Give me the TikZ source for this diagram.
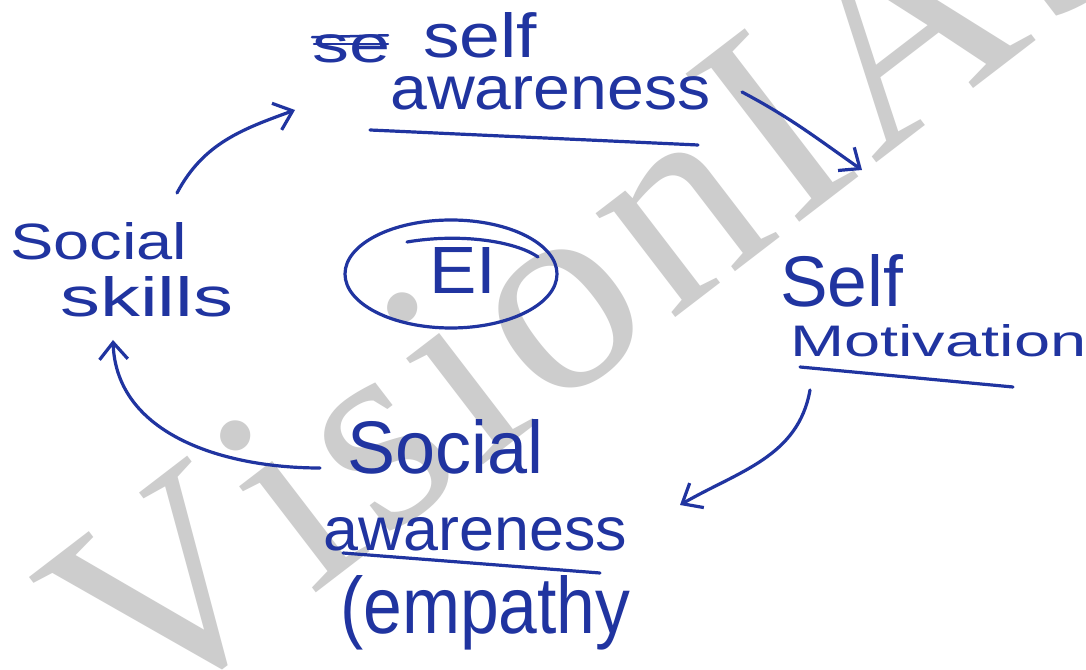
\documentclass[tikz,border=0pt]{standalone}
\usepackage{fontspec}
\usepackage{graphicx}
\setmainfont{Liberation Sans}
\newfontfamily\wmfont{Liberation Serif}
\usetikzlibrary{arrows.meta,shapes.geometric}
\definecolor{ink}{RGB}{32,52,160}
\definecolor{wm}{RGB}{205,205,205}
\newcommand{\hw}[3]{\resizebox{#1pt}{#2pt}{#3}}
\begin{document}
\begin{tikzpicture}[x=1pt,y=1pt,
  txt/.style={inner sep=0pt, anchor=base west, text=ink},
  wmk/.style={inner sep=0pt, anchor=base, text=wm, font=\wmfont\fontsize{285}{285}\selectfont},
  inkline/.style={draw=ink, line width=3.2pt, line cap=round, line join=round},
  conn/.style={inkline, -{Straight Barb[angle=80:22pt]}}]
\fill[white] (0,0) rectangle (1086,669);
\useasboundingbox (0,0) rectangle (1086,669);
% watermark
\begin{scope}[shift={(222,4)}, rotate=37.5, transform shape]
\node[wmk] (w1) at (0,0) {V};
\node[wmk] (w2) at (152.5,0) {i};
\node[wmk] (w3) at (257.6,0) {s};
\node[wmk] (w4) at (362.6,0) {i};
\node[wmk] (w5) at (483.5,0) {o};
\node[wmk] (w6) at (636,0) {n};
\node[wmk] (w7) at (764.7,0) {I};
\node[wmk] (w8) at (925,0) {A};
\node[wmk] (w9) at (1117,0) {S};
\end{scope}
% texts
\node[txt] (strk) at (312,606) {\hw{78}{28}{se}};
\draw[inkline, line width=2.5pt] (strk.west) ++(0,12) -- ++(76,2);
\draw[inkline, line width=2.5pt] (strk.west) ++(2,5) -- ++(74,0);
\node[txt] (self1) at (423,611) {\hw{114}{45}{self}};
\node[txt] (aw1) at (390,559) {\hw{320}{33}{awareness}};
\node[txt] (self2) at (780,362) {\hw{123}{52}{Self}};
\node[txt] (mot) at (790,312) {\hw{296}{32}{Motivation}};
\node[txt] (soc1) at (347,196) {\hw{196}{54}{Social}};
\node[txt] (aw2) at (323,119) {\hw{304}{33}{awareness}};
\node[txt] (emp) at (340,36) {\hw{290}{58}{(empathy}};
\node[txt] (soc2) at (10,409) {\hw{177}{37}{Social}};
\node[txt] (ski) at (60,352) {\hw{173}{40}{skills}};
\node[ellipse, draw=ink, line width=3.2pt, minimum width=212pt, minimum height=108pt, inner sep=0pt] (ring) at (451,395) {};
\node[inner sep=0pt, text=ink] (ei) at (463,399) {\hw{67}{46}{EI}};
\draw[inkline] (407,427) .. controls (460,436) and (515,428) .. (538,412);
% underlines
\draw[inkline] (370,539) -- (698,524);
\draw[inkline] (800,302) -- (1013,282);
\draw[inkline] (343,116) -- (600,96);
% connector end points
\coordinate (a1s) at (177,476);
\coordinate (a1e) at (295,559);
\coordinate (a2s) at (742,577);
\coordinate (a2e) at (862,499);
\coordinate (a3s) at (810,279);
\coordinate (a3e) at (680,164);
\coordinate (a4s) at (320,201);
\coordinate (a4e) at (113,329);
\draw[conn] (a1s) to[out=62,in=200] (a1e);
\draw[conn] (a2s) to[out=-28,in=145] (a2e);
\draw[conn] (a3s) to[out=-100,in=30] (a3e);
\draw[conn] (a4s) to[out=180,in=-88] (a4e);
\end{tikzpicture}
\end{document}
